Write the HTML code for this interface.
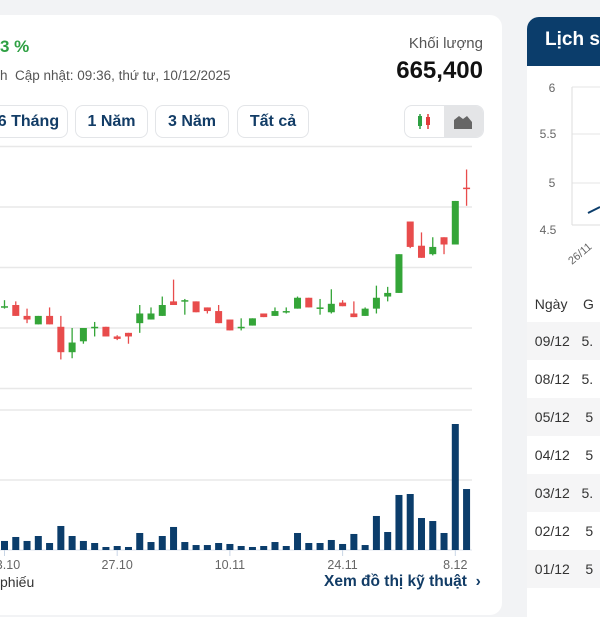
<!DOCTYPE html>
<html><head><meta charset="utf-8"><style>
body{margin:0;width:600px;height:600px;overflow:hidden;background:#f2f3f5;font-family:"Liberation Sans","DejaVu Sans",sans-serif;position:relative}
.card{position:absolute;left:-20px;top:15px;width:522px;height:600px;background:#fff;border-radius:12px}
.t{position:absolute;white-space:nowrap}
.btn{position:absolute;top:105px;height:31px;border:1px solid #e3e5e8;border-radius:8px;color:#123c66;font-weight:bold;font-size:16px;line-height:31px;text-align:center;background:#fff}
.rcard{position:absolute;left:527px;top:17px;width:100px;height:600px;background:#fff;border-radius:12px 0 0 0;overflow:hidden}
.row{position:absolute;left:0;width:100px;height:38px;font-size:14px;color:#333;line-height:38px}
</style></head><body>
<div class="card"></div>
<div class="t" style="left:0;top:37px;font-size:17px;font-weight:bold;color:#2ea043">3 %</div>
<div class="t" style="left:0;top:68px;font-size:13.5px;color:#555">h&nbsp; Cập nhật: 09:36, thứ tư, 10/12/2025</div>
<div class="t" style="right:117px;top:35px;font-size:15px;color:#555">Khối lượng</div>
<div class="t" style="right:117px;top:57px;font-size:24px;font-weight:bold;color:#111">665,400</div>
<div class="btn" style="left:-20px;width:86px">&nbsp;&nbsp;6 Tháng</div>
<div class="btn" style="left:75px;width:71px">1 Năm</div>
<div class="btn" style="left:155px;width:72px">3 Năm</div>
<div class="btn" style="left:237px;width:70px">Tất cả</div>
<div style="position:absolute;left:404px;top:105px;width:78px;height:31px;border:1px solid #e3e5e8;border-radius:8px;overflow:hidden;background:#fff">
<div style="position:absolute;left:0;top:0;width:39px;height:31px">
<svg width="39" height="31"><line x1="15" y1="8" x2="15" y2="23" stroke="#2ea043" stroke-width="1.5"/><rect x="13" y="10" width="4" height="10" fill="#2ea043"/><line x1="23" y1="8" x2="23" y2="23" stroke="#e03c3c" stroke-width="1.5"/><rect x="21" y="11" width="4" height="8" fill="#e03c3c"/></svg></div>
<div style="position:absolute;left:39px;top:0;width:39px;height:31px;background:#e4e5e7">
<svg width="39" height="31"><path d="M10 23 L10 14 L15 10 L19 13 L23 10 L28 16 L28 23 Z" fill="#666"/></svg></div>
</div>
<svg id="chart" width="500" height="600" style="position:absolute;left:0;top:0"></svg>
<div class="t" style="left:0;top:574px;font-size:14px;color:#333">phiếu</div>
<div class="t" style="left:324px;top:573px;font-size:15.5px;font-weight:bold;color:#123c66">Xem đồ thị kỹ thuật &nbsp;›</div>

<div class="rcard">
<div style="position:absolute;left:0;top:0;width:100px;height:49px;background:#0b3d6b"><span style="position:absolute;left:18px;top:12px;color:#fff;font-weight:bold;font-size:19px">Lịch sử</span></div>
<svg width="100" height="280" style="position:absolute;left:0;top:0">
<g font-size="12" fill="#666" text-anchor="middle"><text x="25" y="75">6</text><text x="21" y="121">5.5</text><text x="25" y="170">5</text><text x="21" y="217">4.5</text></g>
<g stroke="#e6e6e6"><line x1="45" y1="70" x2="100" y2="70"/><line x1="45" y1="117" x2="100" y2="117"/><line x1="45" y1="166" x2="100" y2="166"/></g>
<line x1="45" y1="70" x2="45" y2="208" stroke="#ddd"/><line x1="45" y1="208" x2="100" y2="208" stroke="#ddd"/>
<polyline points="61,196 73,190" fill="none" stroke="#0b3d6b" stroke-width="2"/>
<text x="45" y="248" font-size="11" fill="#666" transform="rotate(-40 45 248)">26/11</text>
</svg>
<div class="row" style="top:268px">&nbsp;&nbsp;Ngày&nbsp;&nbsp;&nbsp; G</div>
<div class="row" style="top:305px;background:#f5f5f6">&nbsp;&nbsp;09/12&nbsp;&nbsp; 5.</div>
<div class="row" style="top:343px">&nbsp;&nbsp;08/12&nbsp;&nbsp; 5.</div>
<div class="row" style="top:381px;background:#f5f5f6">&nbsp;&nbsp;05/12&nbsp;&nbsp;&nbsp; 5</div>
<div class="row" style="top:419px">&nbsp;&nbsp;04/12&nbsp;&nbsp;&nbsp; 5</div>
<div class="row" style="top:457px;background:#f5f5f6">&nbsp;&nbsp;03/12&nbsp;&nbsp; 5.</div>
<div class="row" style="top:495px">&nbsp;&nbsp;02/12&nbsp;&nbsp;&nbsp; 5</div>
<div class="row" style="top:533px;background:#f5f5f6">&nbsp;&nbsp;01/12&nbsp;&nbsp;&nbsp; 5</div>
</div>
<script>
const opens=[4.17,4.19,4.10,4.03,4.10,4.01,3.80,3.89,4.00,4.01,3.93,3.96,4.04,4.07,4.10,4.22,4.22,4.22,4.17,4.14,4.07,4.00,4.02,4.12,4.10,4.14,4.16,4.25,4.17,4.13,4.21,4.12,4.10,4.16,4.26,4.29,4.88,4.68,4.61,4.75,4.69,5.16];
const highs=[4.23,4.22,4.16,4.10,4.17,4.10,4.00,4.00,4.05,4.01,3.94,3.96,4.19,4.17,4.26,4.40,4.24,4.22,4.17,4.19,4.07,4.08,4.08,4.12,4.17,4.17,4.26,4.25,4.24,4.32,4.23,4.22,4.17,4.35,4.34,4.61,4.88,4.79,4.75,4.75,5.05,5.31];
const lows=[4.16,4.10,4.04,4.03,4.03,3.74,3.75,3.87,3.93,3.93,3.90,3.87,3.96,4.07,4.10,4.19,4.11,4.13,4.12,4.04,3.98,3.98,4.02,4.09,4.10,4.12,4.16,4.17,4.11,4.12,4.18,4.09,4.10,4.12,4.22,4.29,4.66,4.58,4.60,4.61,4.69,5.01];
const closes=[4.18,4.10,4.07,4.10,4.03,3.80,3.88,4.00,4.01,3.93,3.91,3.93,4.12,4.12,4.19,4.19,4.23,4.13,4.14,4.04,3.98,4.01,4.08,4.09,4.14,4.14,4.25,4.17,4.17,4.20,4.18,4.09,4.16,4.25,4.29,4.61,4.67,4.58,4.67,4.69,5.05,5.15];
const volumes=[129,186,129,200,100,343,200,129,100,43,57,43,243,114,200,329,114,71,71,100,86,57,43,57,114,57,243,100,100,143,86,229,71,486,257,786,800,457,414,243,1800,871];
const priceGrid=[5.5,5.0,4.5,4.0,3.5];
const volGrid=[2000,1000];
const dateTicks=[0,10,20,30,40];
const dateLabels=["13.10","27.10","10.11","24.11","8.12"];
const NS="http://www.w3.org/2000/svg";
const svg=document.getElementById('chart');
const X=i=>4.5+i*11.27;
const PY=p=>207-(p-5.0)*121;
const VY=v=>550-v*0.07;
function mk(tag,at,parent){const e=document.createElementNS(NS,tag);for(const k in at)e.setAttribute(k,at[k]);(parent||svg).appendChild(e);return e;}
priceGrid.forEach(p=>{const l=mk('line',{x1:0,x2:472,y1:PY(p),y2:PY(p),stroke:'#e8e8e8','stroke-width':1.5});

});
volGrid.forEach(v=>{const l=mk('line',{x1:0,x2:472,y1:VY(v),y2:VY(v),stroke:'#e8e8e8','stroke-width':1.5});

});
mk('line',{x1:0,x2:472,y1:550,y2:550,stroke:'#dde3ec','stroke-width':1});
volumes.forEach((v,i)=>{const r=mk('rect',{x:X(i)-3.5,y:VY(v),width:7,height:v*0.07,fill:'#0b3d6b'});

});
opens.forEach((o,i)=>{const c=closes[i];const up=c>=o;const col=up?'#34a538':'#e84c4c';
const w=mk('line',{x1:X(i),x2:X(i),y1:PY(highs[i]),y2:PY(lows[i]),stroke:col,'stroke-width':1.3});


const t=PY(Math.max(o,c)),h=Math.max(1.5,Math.abs(PY(o)-PY(c)));
const b=mk('rect',{x:X(i)-3.5,y:t,width:7,height:h,fill:col});

});
dateTicks.forEach((d,k)=>{mk('line',{x1:X(d),x2:X(d),y1:550,y2:556,stroke:'#c9d6e6'});
const t=mk('text',{x:X(d),y:569,'font-size':12.5,fill:'#666','text-anchor':'middle'});t.textContent=dateLabels[k];

});
</script>
</body></html>
